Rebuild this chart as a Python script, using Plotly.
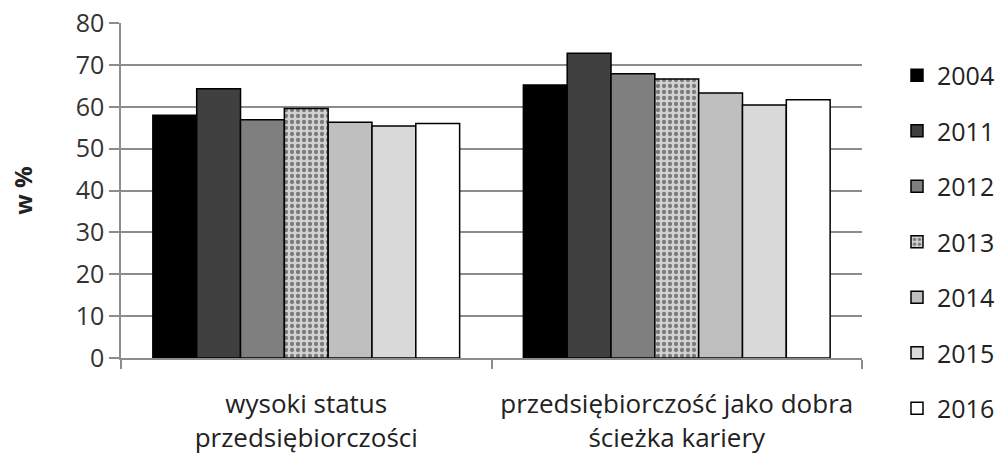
import plotly.graph_objects as go

categories = ["wysoki status<br>przedsiębiorczości", "przedsiębiorczość jako dobra<br>ścieżka kariery"]
years = ["2004", "2011", "2012", "2013", "2014", "2015", "2016"]
v2004 = [58.0, 65.2]
v2011 = [64.3, 72.8]
v2012 = [56.9, 67.9]
v2013 = [59.6, 66.6]
v2014 = [56.3, 63.3]
v2015 = [55.4, 60.4]
v2016 = [56.0, 61.7]
series = [v2004, v2011, v2012, v2013, v2014, v2015, v2016]
colors = ["#000000", "#404040", "#7f7f7f", "#a8a8a8", "#bfbfbf", "#d9d9d9", "#ffffff"]

FONT = "Open Sans"
fig = go.Figure()
for i, (yr, vals, col) in enumerate(zip(years, series, colors)):
    marker = dict(color=col, line=dict(color="#000000", width=1.5))
    if yr == "2013":
        marker["pattern"] = dict(shape=".", bgcolor="#d2d2d2", fgcolor="#7a7a7a",
                                 size=6, solidity=0.4, fillmode="replace")
    fig.add_trace(go.Bar(name=yr, x=categories, y=vals, marker=marker,
                         legendgroup=yr))

fig.update_layout(
    width=1000, height=457,
    margin=dict(l=121, r=138, t=23, b=99, autoexpand=False),
    paper_bgcolor="white", plot_bgcolor="white",
    barmode="group", bargap=0.172, bargroupgap=0,
    font=dict(family=FONT, size=26, color="#222222"),
    legend=dict(xref="container", yref="container", x=0.897, xanchor="left",
                y=0.885, yanchor="top",
                font=dict(family=FONT, size=25, color="#222222"),
                tracegroupgap=20, traceorder="grouped", maxheight=457,
                itemwidth=30, bgcolor="rgba(0,0,0,0)"),
    showlegend=True,
)
fig.update_yaxes(range=[0, 80], dtick=10, showgrid=True, gridcolor="#8c8c8c", gridwidth=1.5,
                 showline=True, linecolor="#8c8c8c", linewidth=1.5,
                 ticks="outside", ticklen=10, tickcolor="#8c8c8c", tickwidth=1.5,
                 tickfont=dict(family=FONT, size=25, color="#333333"),
                 title=dict(text="<b>w %</b>", font=dict(family=FONT, size=24, color="#222222"), standoff=36),
                 zeroline=False, automargin=False)
fig.update_xaxes(showline=True, linecolor="#8c8c8c", linewidth=1.5,
                 ticks="outside", tickson="boundaries", ticklen=9, tickcolor="#8c8c8c", tickwidth=1.5,
                 ticklabelstandoff=22, automargin=False, tickangle=0,
                 tickfont=dict(family=FONT, size=26, color="#222222"))

fig.write_html("out.html")
